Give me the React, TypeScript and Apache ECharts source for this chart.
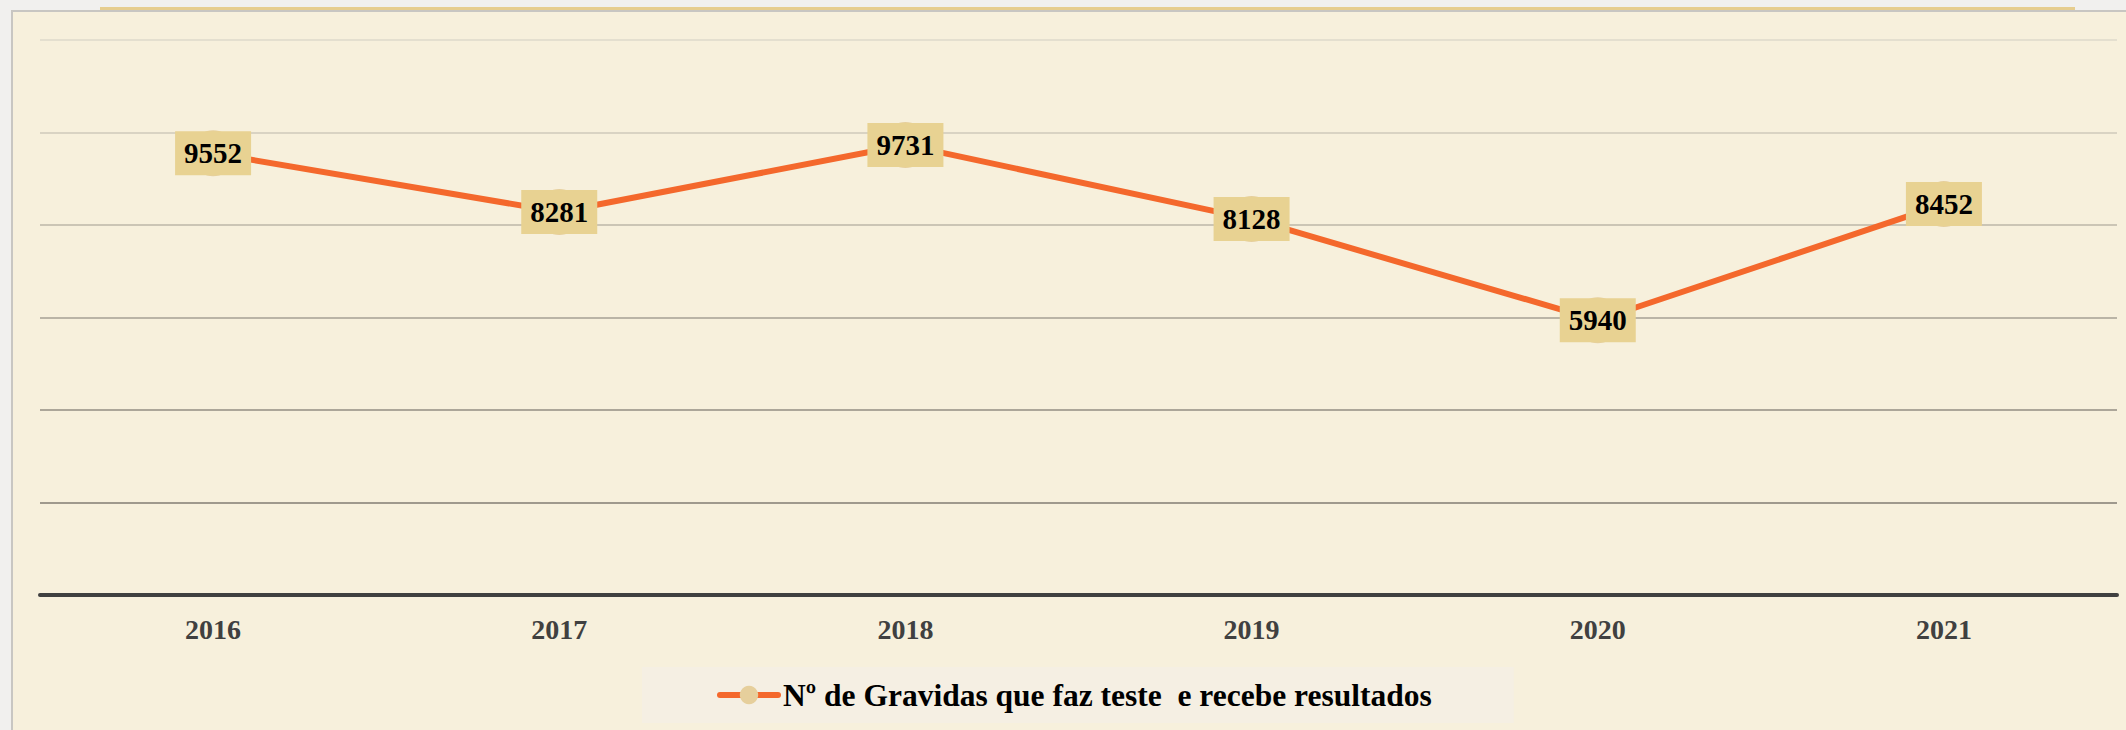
import React, { useEffect, useRef } from "react";
import * as echarts from "echarts";

const categories = ["2016", "2017", "2018", "2019", "2020", "2021"];
const values = [9552, 8281, 9731, 8128, 5940, 8452];
const seriesName = "Nº de Gravidas que faz teste  e recebe resultados";
const yMin = 0;
const yMax = 12000;
const yInterval = 2000;

const FONT = "'Liberation Serif', 'Times New Roman', serif";

export default function App() {
  const ref = useRef<HTMLDivElement>(null);

  useEffect(() => {
    if (!ref.current) return;
    const chart = echarts.init(ref.current, undefined, { renderer: "svg" });
    chart.setOption({
      animation: false,
      backgroundColor: "transparent",
      grid: { left: 40, right: 9, top: 40, bottom: 135, containLabel: false },
      xAxis: {
        type: "category",
        data: categories,
        boundaryGap: true,
        axisLine: { show: true, lineStyle: { color: "#404040", width: 4 } },
        axisTick: { show: false },
        axisLabel: {
          color: "#404040",
          fontFamily: FONT,
          fontWeight: "bold",
          fontSize: 28,
          margin: 20,
        },
        splitLine: { show: false },
      },
      yAxis: {
        type: "value",
        min: yMin,
        max: yMax,
        interval: yInterval,
        axisLine: { show: false },
        axisTick: { show: false },
        axisLabel: { show: false },
        splitLine: {
          show: true,
          lineStyle: {
            width: 2,
            color: ["#9f998d", "#9f998d", "#aca699", "#bab4a6", "#cbc5b5", "#d9d3c3", "#e4dfcf"],
          },
        },
      },
      legend: {
        show: true,
        left: 642,
        top: 667,
        padding: [12, 82, 12, 75],
        backgroundColor: "#f5efe3",
        itemWidth: 58,
        itemHeight: 23,
        lineStyle: { width: 6, color: "#f4682c", cap: "round" },
        textStyle: {
          fontFamily: FONT,
          fontWeight: "bold",
          fontSize: 31.5,
          lineHeight: 28,
          color: "#000",
        },
        data: [seriesName],
      },
      series: [
        {
          type: "line",
          name: seriesName,
          data: values,
          symbol: "circle",
          symbolSize: 46,
          itemStyle: { color: "#e6cf9c" },
          lineStyle: { color: "#f4682c", width: 6 },
          label: {
            show: true,
            position: "inside",
            color: "#000",
            fontFamily: FONT,
            fontWeight: "bold",
            fontSize: 29,
            lineHeight: 30,
            backgroundColor: "#e8d292",
            padding: [7, 9, 7, 9],
          },
          emphasis: { disabled: true },
        },
      ],
    });
    return () => chart.dispose();
  }, []);

  return (
    <div
      style={{
        position: "fixed",
        left: 0,
        top: 0,
        width: 2126,
        height: 730,
        background: "#f1f0ee",
        overflow: "hidden",
      }}
    >
      <div
        style={{
          position: "absolute",
          left: 100,
          top: 7,
          width: 1975,
          height: 3,
          background: "#e6cd8e",
        }}
      />
      <div
        style={{
          position: "absolute",
          left: 11,
          top: 10,
          right: 0,
          bottom: 0,
          background: "#f7f0dc",
          borderLeft: "2px solid #c8c6c2",
          borderTop: "2px solid #c8c6c2",
        }}
      />
      <div
        ref={ref}
        style={{ position: "absolute", left: 0, top: 0, width: 2126, height: 730 }}
      />
    </div>
  );
}
